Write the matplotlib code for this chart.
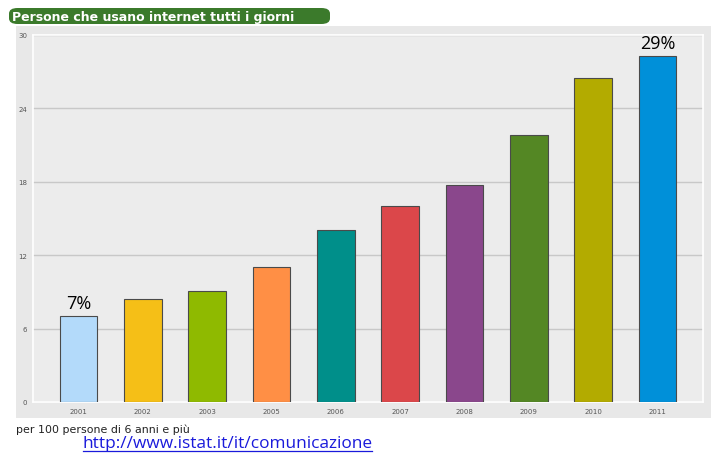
import matplotlib
matplotlib.use("Agg")
import matplotlib.pyplot as plt
from matplotlib.patches import Rectangle, FancyBboxPatch

years = ["2001", "2002", "2003", "2005", "2006", "2007", "2008", "2009", "2010", "2011"]
values = [7.05, 8.45, 9.1, 11.05, 14.1, 16.05, 17.7, 21.8, 26.5, 28.3]
colors = ["#b3dafa", "#f5bf17", "#8fba00", "#ff8f45", "#008f8a",
          "#db474a", "#8a478c", "#548724", "#b3ab00", "#0090d9"]
yticks = [0, 6, 12, 18, 24, 30]
annotations = {0: "7%", 9: "29%"}
title = "Persone che usano internet tutti i giorni"
footnote = "per 100 persone di 6 anni e più"
url = "http://www.istat.it/it/comunicazione"

W, H = 720, 464
fig = plt.figure(figsize=(W / 100, H / 100), dpi=100)
fig.patch.set_facecolor("white")

def fx(px):
    return px / W

def fy(py):
    return 1 - py / H

# outer panel
fig.patches.append(Rectangle((fx(16), fy(419)), fx(711) - fx(16), fy(27) - fy(419),
                             transform=fig.transFigure, facecolor="#e8e8e8",
                             edgecolor="none", zorder=0))
# header tab
fig.patches.append(FancyBboxPatch((fx(9), fy(25)), fx(330) - fx(9), fy(9) - fy(25),
                                  boxstyle="round,pad=0,rounding_size=0.012",
                                  transform=fig.transFigure, facecolor="#3b7a2b",
                                  edgecolor="none", zorder=1))
fig.text(fx(12), fy(17), title, color="white", fontsize=9, fontweight="bold",
         family="DejaVu Sans", va="center", ha="left", zorder=3)

ax = fig.add_axes([fx(33), fy(403), fx(703) - fx(33), fy(36) - fy(403)])
ax.set_zorder(2)
ax.set_facecolor("#ececec")
for s in ax.spines.values():
    s.set_color("white")
    s.set_linewidth(1.2)

x = list(range(len(years)))
ax.bar(x, values, width=0.59, color=colors, edgecolor="#4a4a4a", linewidth=0.8, zorder=3)
ax.set_xlim(-0.707, len(years) - 1 + 0.707)
ax.set_ylim(0, 30)
ax.set_yticks(yticks)
ax.set_yticklabels([str(t) for t in yticks])
ax.set_xticks(x)
ax.set_xticklabels(years)
ax.tick_params(axis="both", length=0, labelsize=5, labelcolor="#555555")
ax.tick_params(axis="y", pad=4)
ax.tick_params(axis="x", pad=4)
ax.yaxis.grid(True, color="#c8c8c8", linewidth=1, zorder=1)
ax.set_axisbelow(True)

for i, lab in annotations.items():
    ax.annotate(lab, (x[i], values[i]), xytext=(0, 3), textcoords="offset points",
                ha="center", va="bottom", fontsize=13, family="Open Sans", color="black")

fig.text(fx(16), fy(430), footnote, fontsize=7.9, family="DejaVu Sans",
         va="center", ha="left", color="#222222")
fig.text(fx(83), fy(444), url, fontsize=12.4, family="Open Sans", color="#1a1adb",
         va="center", ha="left")
# underline
fig.lines.append(plt.Line2D([fx(83), fx(372)], [fy(452), fy(452)],
                            transform=fig.transFigure, color="#1a1adb", linewidth=0.9))

fig.savefig("out.png", dpi=100)
